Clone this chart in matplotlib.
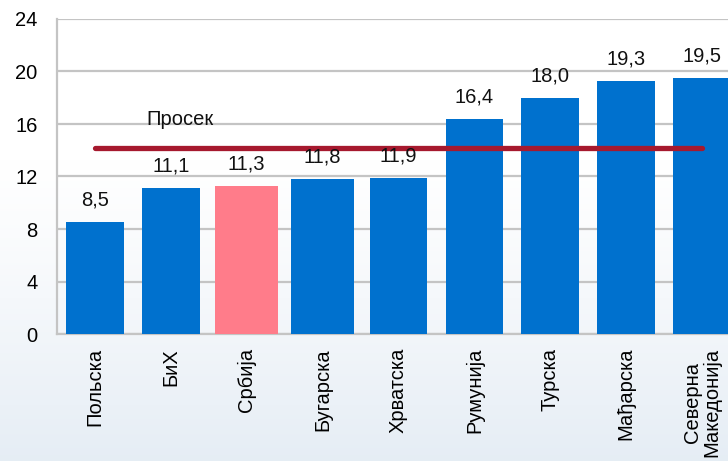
import numpy as np
import matplotlib
matplotlib.use("Agg")
import matplotlib.pyplot as plt

# подаци
countries = ["Польска", "БиХ", "Србија", "Бугарска", "Хрватска",
             "Румунија", "Турска", "Мађарска", "Северна\nМакедонија"]
values = [8.5, 11.1, 11.3, 11.8, 11.9, 16.4, 18.0, 19.3, 19.5]
average = 14.2
highlight = "Србија"

plt.rcParams['font.family'] = ['Liberation Sans', 'DejaVu Sans']
fs = 14.5

fig = plt.figure(figsize=(7.28, 4.61), dpi=100)

# светла позадина у доњем делу слике
bg = fig.add_axes([0, 0, 1, 1], zorder=-10)
grad = np.linspace(0, 1, 200).reshape(-1, 1)
grad = np.clip((grad - 0.35) / 0.65, 0, 1) ** 1.2
img = np.ones((200, 1, 3))
img[:, 0, 0] = 1 - 0.10 * grad[:, 0]
img[:, 0, 1] = 1 - 0.07 * grad[:, 0]
img[:, 0, 2] = 1 - 0.04 * grad[:, 0]
bg.imshow(img, aspect='auto', extent=[0, 1, 0, 1], origin='upper')
bg.axis('off')

ax = fig.add_axes([57 / 728, 127 / 461, 683 / 728, 315 / 461])
ax.patch.set_alpha(0)

x = np.arange(len(countries))
colors = ['#FF7C8A' if c == highlight else '#0071CE' for c in countries]
# у оригиналу су Србија и Бугарска мало шири стубови
widths = [0.83 if c in ("Србија", "Бугарска") else 0.76 for c in countries]
ax.bar(x, values, width=widths, color=colors, zorder=3)

for xi, v in zip(x, values):
    ax.text(xi, v + 0.95, f"{v:.1f}".replace('.', ','), ha='center', va='bottom',
            fontsize=fs, color='#111111', zorder=5)

# просек
ax.plot([x[0], x[-1]], [average, average], color='#A6192E', lw=3.8,
        solid_capstyle='round', zorder=4)
ax.text(1.12, average + 1.4, "Просек", ha='center', va='bottom', fontsize=fs,
        color='#111111', zorder=5)

ax.set_xlim(-0.5, len(countries) - 0.5)
ax.set_ylim(0, 24)
ax.set_yticks(np.arange(0, 25, 4))
ax.set_xticks(x)
ax.set_xticklabels(countries, rotation=90, fontsize=fs, va='top', ha='center',
                   multialignment='center', linespacing=1.0)
ax.tick_params(axis='y', length=0, pad=14, labelsize=fs)
ax.tick_params(axis='x', length=0, pad=10)

ax.grid(axis='y', color='#C4C4C4', lw=1.6, zorder=0)
for s in ['top', 'right']:
    ax.spines[s].set_visible(False)
for s in ['left', 'bottom']:
    ax.spines[s].set_color('#C4C4C4')
    ax.spines[s].set_linewidth(1.6)
ax.spines['bottom'].set_zorder(2)

fig.savefig("out.png", dpi=100)
